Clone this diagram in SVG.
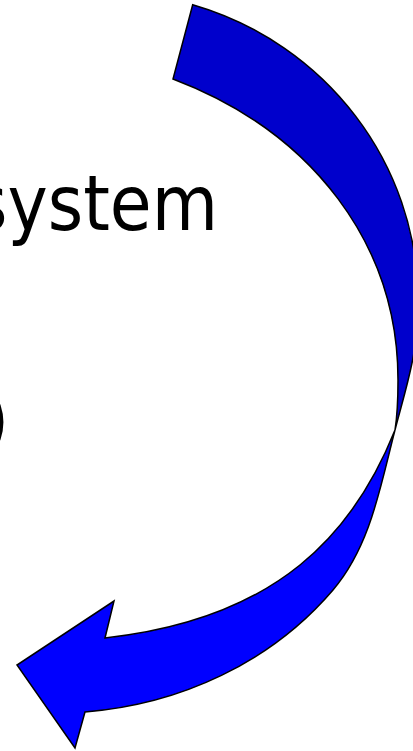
<svg xmlns="http://www.w3.org/2000/svg" width="413" height="751" viewBox="0 0 413 751">
<style>
.lbl{font-family:"DejaVu Sans","Verdana",sans-serif;font-size:77px;fill:#000}
.band{stroke:#000;stroke-width:1.5;stroke-linejoin:miter}
.back{fill:#0000CC}
.front{fill:#0000FF}
</style>
<rect width="413" height="751" fill="#fff"/>
<g id="text-system"><text class="lbl" x="-28" y="230" textLength="246" lengthAdjust="spacingAndGlyphs">system</text></g>
<g id="text-paren"><text class="lbl" x="-20" y="446">)</text></g>
<g id="curved-arrow">
<path id="arrow-back" class="band back" d="M192.7,4.7 C326.2,43.4 418,164 418,300 C419,350 406.3,386.4 395,430 C397.5,414 398,395 398,380 C398,245 313.3,132.3 173,79 Z"/>
<path id="arrow-front" class="band front" d="M395,430 C380.4,486.1 370.7,545.9 333,590 C270.9,662.7 180.3,704.4 85,712 L75,748 L17,665 L114,601 L105,638 C175.4,630.3 244.9,609.5 300,565 C343.6,529.8 374.2,482 395,430 Z"/>
</g>
</svg>
